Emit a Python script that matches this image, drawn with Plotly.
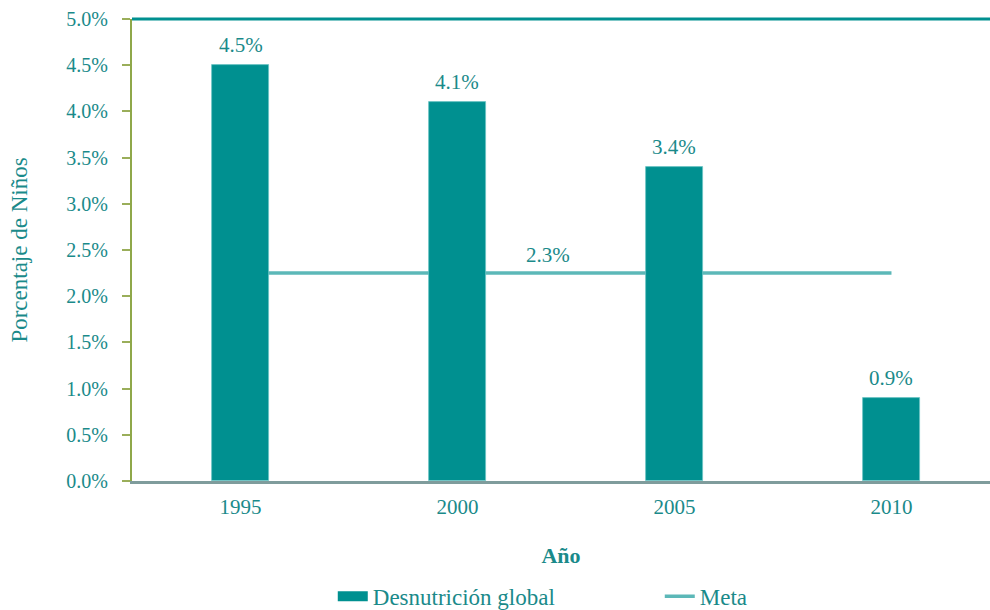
import plotly.graph_objects as go

years = ["1995", "2000", "2005", "2010"]
desnutricion = [4.5, 4.1, 3.4, 0.9]
desnutricion_labels = ["4.5%", "4.1%", "3.4%", "0.9%"]
meta = [2.25, 2.25, 2.25, 2.25]
meta_label = "2.3%"
y_ticks = [0.0, 0.5, 1.0, 1.5, 2.0, 2.5, 3.0, 3.5, 4.0, 4.5, 5.0]
y_ticktext = ["%.1f%%" % v for v in y_ticks]

TEAL = "#009090"
LIGHT = "#5cb8b8"
TXT = "#1a8a8a"
FONT = "Liberation Serif"

xpos = list(range(len(years)))
XR = [-0.5, 3.454]
YR = [0, 5.0]

fig = go.Figure()
# legend entry for bars (wide rectangle symbol)
fig.add_trace(go.Scatter(
    x=[None], y=[None], mode="lines", name="Desnutrición global",
    line=dict(color=TEAL, width=14), showlegend=True,
))
fig.add_trace(go.Scatter(
    x=xpos, y=meta, mode="lines", name="Meta",
    line=dict(color=LIGHT, width=3.5),
))
fig.add_trace(go.Bar(
    x=xpos, y=desnutricion, name="Desnutrición global",
    marker=dict(color=TEAL, line=dict(color="#6cc4c4", width=0.8)),
    width=0.26, showlegend=False,
    xaxis="x2", yaxis="y2",
))
for xi, yi, lab in zip(xpos, desnutricion, desnutricion_labels):
    fig.add_annotation(x=xi, y=yi, xref="x2", yref="y2", text=lab, showarrow=False,
                       yshift=20, font=dict(color=TXT, size=21, family=FONT))
fig.add_annotation(x=1.417, y=meta[0], text=meta_label, showarrow=False,
                   yshift=18, font=dict(color=TXT, size=21, family=FONT))
# top frame line
fig.add_shape(type="line", xref="paper", yref="paper", x0=0, x1=1, y0=1, y1=1,
              line=dict(color=TEAL, width=3), layer="above")

fig.update_layout(
    width=990, height=610,
    margin=dict(l=132, r=0, t=19, b=129, autoexpand=False),
    plot_bgcolor="white", paper_bgcolor="white",
    font=dict(family=FONT, color=TXT, size=20),
    showlegend=True,
    legend=dict(orientation="h", x=0.234, xanchor="left", y=-0.203, yanchor="top",
                font=dict(size=23, color=TXT, family=FONT),
                entrywidth=282, itemwidth=30),
    bargap=0,
    xaxis2=dict(overlaying="x", range=XR, visible=False, fixedrange=True),
    yaxis2=dict(overlaying="y", range=YR, visible=False, fixedrange=True),
)
fig.update_layout(xaxis=dict(
    range=XR, tickmode="array", tickvals=xpos, ticktext=years, automargin=False,
    showgrid=False, zeroline=False, showline=True, linecolor="#7f9c9c", linewidth=3,
    ticks="", ticklabelstandoff=5, tickfont=dict(size=21, color=TXT, family=FONT),
    title=dict(text="<b>Año</b>", font=dict(size=22, color=TXT, family=FONT), standoff=30),
))
fig.update_layout(yaxis=dict(
    range=YR, tickmode="array", tickvals=y_ticks, ticktext=y_ticktext, automargin=False,
    showgrid=False, zeroline=False, showline=True, linecolor="#8fa84a", linewidth=2,
    ticks="outside", ticklen=8, tickcolor="#9aae5a", tickwidth=2, ticklabelstandoff=10,
    tickfont=dict(size=20, color=TXT, family=FONT),
    title=dict(text="Porcentaje de Niños", font=dict(size=23, color=TXT, family=FONT), standoff=32),
))

fig.write_html("out.html", config={"displayModeBar": False},
               post_script="document.body.style.margin='0';")
